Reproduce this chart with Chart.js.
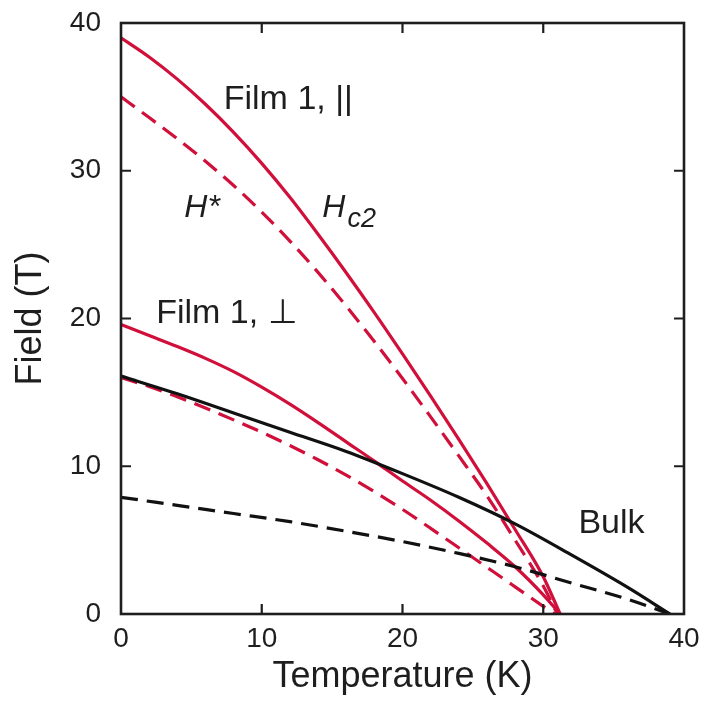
<!DOCTYPE html>
<html>
<head>
<meta charset="utf-8">
<script src="https://cdn.jsdelivr.net/npm/chart.js@4"></script>
<style>
  body { margin: 0; background: #fff; }
</style>
</head>
<body>
<canvas id="myChart" width="701" height="711"></canvas>
<script>
// temperatures (K) and fields (T)
const tempPar = [0, 2, 4, 6, 8, 10, 12, 14, 16, 18, 20, 22, 24, 26, 28, 30, 31.2];
const hc2Par = [39.0, 37.7, 36.2, 34.5, 32.6, 30.5, 28.2, 25.7, 23.1, 20.4, 17.6, 14.74, 11.82, 8.82, 5.72, 2.52, 0];
const tempParStar = [0, 2, 4, 6, 8, 10, 12, 14, 16, 18, 20, 22, 24, 26, 28, 30, 31];
const hStarPar = [35.0, 33.6, 32.16, 30.64, 29.0, 27.2, 25.24, 23.12, 20.84, 18.44, 15.94, 13.34, 10.7, 8.0, 5.0, 1.9, 0];

const tempPerp = [0, 2, 4, 6, 8, 10, 12, 14, 16, 18, 20, 22, 24, 26, 28, 30, 31.2];
const hc2Perp = [19.6, 18.85, 18.1, 17.3, 16.4, 15.35, 14.2, 12.95, 11.65, 10.35, 9.0, 7.7, 6.3, 4.8, 3.2, 1.3, 0];
const tempPerpStar = [0, 2, 4, 6, 8, 10, 12, 14, 16, 18, 20, 22, 24, 26, 28, 30, 30.8];
const hStarPerp = [16.0, 15.4, 14.7, 13.94, 13.14, 12.3, 11.4, 10.44, 9.4, 8.28, 7.08, 5.8, 4.48, 3.16, 1.84, 0.52, 0];

const tempBulk = [0, 4, 8, 12, 16, 20, 24, 28, 32, 36, 39];
const hc2Bulk = [16.1, 14.9, 13.6, 12.3, 11.0, 9.5, 7.9, 6.1, 4.0, 1.8, 0];
const hStarBulk = [7.9, 7.35, 6.8, 6.25, 5.6, 4.9, 4.1, 3.2, 2.1, 1.0, 0];

const tickValues = [0, 10, 20, 30, 40];

const red = '#d0103a';
const ink = '#1e1e1e';
const fontFamily = '"Liberation Sans", Arial, sans-serif';

function pts(xs, ys) {
  return xs.map((x, i) => ({ x: x, y: ys[i] }));
}

function curve(xs, ys, color, dashed) {
  return {
    data: pts(xs, ys),
    borderColor: color,
    borderWidth: 3.2,
    borderDash: dashed ? [17, 9] : [],
    pointRadius: 0,
    cubicInterpolationMode: 'monotone',
    fill: false
  };
}

// frame on all four sides with inward ticks
const framePlugin = {
  id: 'frame',
  afterDatasetsDraw(chart) {
    const { ctx, chartArea: a, scales } = chart;
    ctx.save();
    ctx.strokeStyle = ink;
    ctx.lineWidth = 2.6;
    ctx.strokeRect(a.left, a.top, a.right - a.left, a.bottom - a.top);
    ctx.lineWidth = 2.2;
    ctx.beginPath();
    tickValues.slice(1, -1).forEach((v) => {
      const px = scales.x.getPixelForValue(v);
      const py = scales.y.getPixelForValue(v);
      ctx.moveTo(px, a.bottom); ctx.lineTo(px, a.bottom - 10);
      ctx.moveTo(px, a.top); ctx.lineTo(px, a.top + 10);
      ctx.moveTo(a.left, py); ctx.lineTo(a.left + 10, py);
      ctx.moveTo(a.right, py); ctx.lineTo(a.right - 10, py);
    });
    ctx.stroke();
    ctx.restore();
  }
};

// curve labels placed in data coordinates
const notes = [
  { text: 'Film 1, ||', t: 7.3, h: 34.2, italic: false },
  { text: 'Film 1, \u22A5', t: 2.5, h: 19.7, italic: false },
  { text: 'Bulk', t: 32.5, h: 5.5, italic: false },
  { text: 'H*', t: 4.5, h: 26.9, italic: true },
  { text: 'H', t: 14.3, h: 26.9, italic: true, sub: 'c2' }
];

const notesPlugin = {
  id: 'notes',
  afterDraw(chart) {
    const { ctx, scales } = chart;
    ctx.save();
    ctx.fillStyle = ink;
    ctx.textBaseline = 'alphabetic';
    ctx.textAlign = 'left';
    notes.forEach((n) => {
      const x = scales.x.getPixelForValue(n.t);
      const y = scales.y.getPixelForValue(n.h);
      ctx.font = (n.italic ? 'italic 32px ' : '34px ') + fontFamily;
      ctx.fillText(n.text, x, y);
      if (n.sub) {
        const w = ctx.measureText(n.text).width;
        ctx.font = 'italic 27px ' + fontFamily;
        ctx.fillText(n.sub, x + w + 2, y + 10);
      }
    });
    ctx.restore();
  }
};

const ctx = document.getElementById('myChart').getContext('2d');
const myChart = new Chart(ctx, {
  type: 'line',
  data: {
    datasets: [
      curve(tempBulk, hStarBulk, '#111111', true),
      curve(tempBulk, hc2Bulk, '#111111', false),
      curve(tempPerpStar, hStarPerp, red, true),
      curve(tempPerp, hc2Perp, red, false),
      curve(tempParStar, hStarPar, red, true),
      curve(tempPar, hc2Par, red, false)
    ]
  },
  options: {
    responsive: false,
    animation: false,
    layout: { padding: { top: 23, right: 17, left: 0, bottom: 0 } },
    plugins: {
      legend: { display: false },
      tooltip: { enabled: false }
    },
    scales: {
      x: {
        type: 'linear',
        min: 0,
        max: 40,
        afterFit: (scale) => {
          scale.height = 97;
          scale.paddingLeft = 0;
          scale.paddingRight = 0;
        },
        afterBuildTicks: (scale) => { scale.ticks = tickValues.map((v) => ({ value: v })); },
        grid: { display: false, drawTicks: false },
        border: { display: false },
        ticks: {
          color: ink,
          padding: 8,
          maxRotation: 0,
          font: { family: fontFamily, size: 28 }
        },
        title: {
          display: true,
          text: 'Temperature (K)',
          color: ink,
          padding: { top: 0, bottom: 12 },
          font: { family: fontFamily, size: 36 }
        }
      },
      y: {
        type: 'linear',
        min: 0,
        max: 40,
        afterFit: (scale) => {
          scale.width = 121;
          scale.paddingTop = 0;
          scale.paddingBottom = 0;
        },
        afterBuildTicks: (scale) => { scale.ticks = tickValues.map((v) => ({ value: v })); },
        grid: { display: false, drawTicks: false },
        border: { display: false },
        ticks: {
          color: ink,
          padding: 20,
          font: { family: fontFamily, size: 28 }
        },
        title: {
          display: true,
          text: 'Field (T)',
          color: ink,
          padding: { top: 9, bottom: 0 },
          font: { family: fontFamily, size: 36 }
        }
      }
    }
  },
  plugins: [framePlugin, notesPlugin]
});
</script>
</body>
</html>
